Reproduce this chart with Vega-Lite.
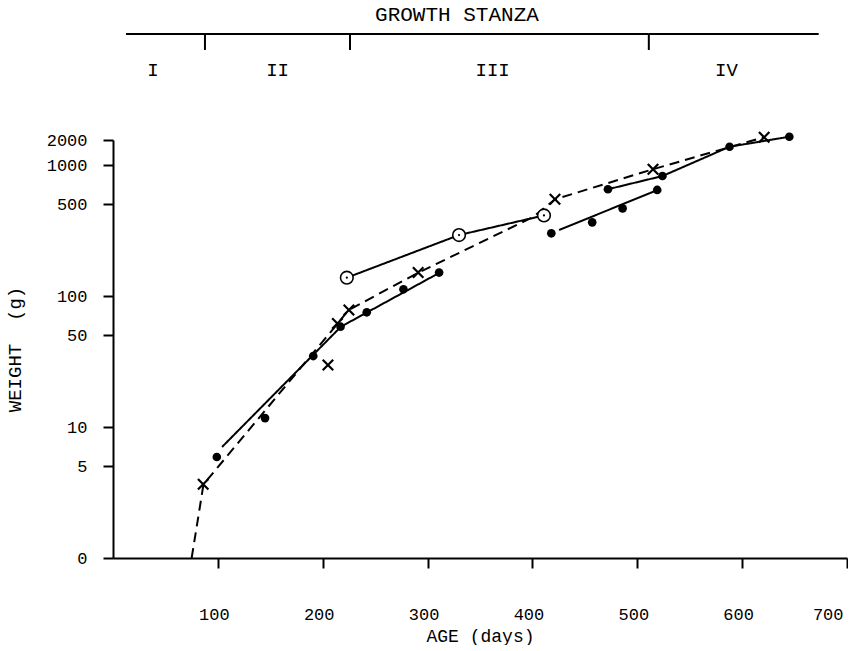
{
  "$schema": "https://vega.github.io/schema/vega-lite/v6.json",
  "background": "white",
  "padding": {"left": 5, "top": 0, "right": 0, "bottom": 0},
  "spacing": 60,
  "bounds": "flush",
  "config": {
    "view": {"stroke": null},
    "font": "Liberation Mono",
    "axis": {
      "domainColor": "black", "domainWidth": 2, "tickColor": "black", "tickWidth": 2, "tickSize": 10,
      "labelColor": "black", "labelFont": "Liberation Mono", "labelFontSize": 17,
      "titleColor": "black", "titleFont": "Liberation Mono", "titleFontSize": 19, "titleFontWeight": "normal",
      "grid": false
    }
  },
  "datasets": {
    "stanzas": [
      {"stanza": "I", "start": 12.4, "end": 87.7, "label_age": 38},
      {"stanza": "II", "start": 87.7, "end": 226, "label_age": 157},
      {"stanza": "III", "start": 226, "end": 511, "label_age": 362},
      {"stanza": "IV", "start": 511, "end": 673, "label_age": 585}
    ],
    "dots": [
      {"age": 99, "weight": 5.9, "group": "A"},
      {"age": 145, "weight": 11.7, "group": "A"},
      {"age": 191, "weight": 34.8, "group": "A"},
      {"age": 217, "weight": 58.3, "group": "A"},
      {"age": 242, "weight": 75.1, "group": "A"},
      {"age": 277, "weight": 112.5, "group": "A"},
      {"age": 311, "weight": 151, "group": "A"},
      {"age": 418, "weight": 301, "group": "B"},
      {"age": 457, "weight": 365, "group": "B"},
      {"age": 486, "weight": 467, "group": "B"},
      {"age": 519, "weight": 645, "group": "B"},
      {"age": 472, "weight": 653, "group": "C"},
      {"age": 524, "weight": 824, "group": "C"},
      {"age": 588, "weight": 1379, "group": "C"},
      {"age": 645, "weight": 1644, "group": "C"}
    ],
    "crosses": [
      {"age": 86, "weight": 3.65},
      {"age": 205, "weight": 29.7},
      {"age": 214, "weight": 61.7},
      {"age": 225, "weight": 78.2},
      {"age": 291, "weight": 151},
      {"age": 421.5, "weight": 547},
      {"age": 515, "weight": 927},
      {"age": 621, "weight": 1627}
    ],
    "circles": [
      {"age": 223, "weight": 138},
      {"age": 330, "weight": 292},
      {"age": 411, "weight": 412}
    ],
    "lines": [
      {"series": "A", "order": 1, "age": 104, "weight": 7.04},
      {"series": "A", "order": 2, "age": 217.4, "weight": 58.3},
      {"series": "A", "order": 3, "age": 311, "weight": 150},
      {"series": "B", "order": 1, "age": 425.4, "weight": 319},
      {"series": "B", "order": 2, "age": 516.9, "weight": 633},
      {"series": "C", "order": 1, "age": 472, "weight": 653},
      {"series": "C", "order": 2, "age": 524, "weight": 824},
      {"series": "C", "order": 3, "age": 588, "weight": 1379},
      {"series": "C", "order": 4, "age": 645, "weight": 1644},
      {"series": "circles", "order": 1, "age": 223, "weight": 138},
      {"series": "circles", "order": 2, "age": 330, "weight": 292},
      {"series": "circles", "order": 3, "age": 411, "weight": 412},
      {"series": "crosses", "order": 1, "age": 75, "weight": 1.0},
      {"series": "crosses", "order": 2, "age": 80.1, "weight": 1.79},
      {"series": "crosses", "order": 3, "age": 86.3, "weight": 3.65},
      {"series": "crosses", "order": 4, "age": 214.3, "weight": 61.7},
      {"series": "crosses", "order": 5, "age": 224.8, "weight": 78.2},
      {"series": "crosses", "order": 6, "age": 291.4, "weight": 151},
      {"series": "crosses", "order": 7, "age": 400.6, "weight": 401},
      {"series": "crosses", "order": 8, "age": 421.5, "weight": 547},
      {"series": "crosses", "order": 9, "age": 514.7, "weight": 927},
      {"series": "crosses", "order": 10, "age": 620.6, "weight": 1627}
    ]
  },
  "vconcat": [
    {
      "width": 734,
      "height": 80,
      "layer": [
        {
          "data": {"name": "stanzas"},
          "mark": {"type": "rule", "color": "black", "strokeWidth": 2},
          "encoding": {
            "x": {"field": "start", "type": "quantitative", "scale": {"domain": [0, 700]}, "axis": null},
            "x2": {"field": "end"},
            "y": {"datum": 0.575, "type": "quantitative", "scale": {"domain": [0, 1]}, "axis": null}
          }
        },
        {
          "data": {"name": "stanzas"},
          "transform": [{"filter": "datum.stanza != 'IV'"}],
          "mark": {"type": "rule", "color": "black", "strokeWidth": 2},
          "encoding": {
            "x": {"field": "end", "type": "quantitative"},
            "y": {"datum": 0.575, "type": "quantitative"},
            "y2": {"datum": 0.375}
          }
        },
        {
          "data": {"name": "stanzas"},
          "mark": {"type": "text", "font": "Liberation Mono", "fontSize": 19, "color": "black", "baseline": "middle", "align": "center"},
          "encoding": {
            "x": {"field": "label_age", "type": "quantitative"},
            "y": {"datum": 0.125, "type": "quantitative"},
            "text": {"field": "stanza"}
          }
        },
        {
          "data": {"values": [{"heading": "GROWTH STANZA"}]},
          "mark": {"type": "text", "font": "Liberation Mono", "fontSize": 21, "color": "black", "baseline": "middle", "align": "center"},
          "encoding": {
            "x": {"datum": 328, "type": "quantitative"},
            "y": {"datum": 0.8125, "type": "quantitative"},
            "text": {"field": "heading"}
          }
        }
      ]
    },
    {
      "width": 734,
      "height": 418,
      "encoding": {
        "x": {
          "field": "age", "type": "quantitative",
          "scale": {"domain": [0, 700], "nice": false, "zero": false},
          "axis": {"title": "AGE (days)", "values": [100, 200, 300, 400, 500, 600, 700], "labelPadding": 38, "titlePadding": 5, "labelOffset": -4, "labelFontSize": 17, "titleFontSize": 18}
        },
        "y": {
          "field": "weight", "type": "quantitative",
          "scale": {"type": "log", "domain": [1, 1552], "nice": false, "zero": false},
          "axis": {
            "title": "WEIGHT\u00a0\u00a0(g)",
            "values": [1, 5, 10, 50, 100, 500, 1000, 1552],
            "labelExpr": "datum.value < 2 ? '0' : (datum.value > 1200 ? '2000' : format(datum.value, 'd'))",
            "labelPadding": 16, "titlePadding": 22
          }
        }
      },
      "layer": [
        {
          "data": {"name": "lines"},
          "mark": {"type": "line", "color": "black", "strokeWidth": 2},
          "encoding": {
            "detail": {"field": "series"},
            "order": {"field": "order"},
            "strokeDash": {"field": "series", "type": "nominal", "scale": {"domain": ["A", "B", "C", "circles", "crosses"], "range": [[1, 0], [1, 0], [1, 0], [1, 0], [10, 6]]}, "legend": null}
          }
        },
        {
          "data": {"name": "circles"},
          "mark": {"type": "point", "shape": "circle", "size": 160, "filled": true, "fill": "white", "stroke": "black", "strokeWidth": 1.6, "opacity": 1}
        },
        {
          "data": {"name": "circles"},
          "mark": {"type": "point", "shape": "circle", "size": 5, "filled": true, "color": "black", "opacity": 1}
        },
        {
          "data": {"name": "dots"},
          "mark": {"type": "point", "shape": "circle", "size": 75, "filled": true, "color": "black", "opacity": 1}
        },
        {
          "data": {"name": "crosses"},
          "mark": {"type": "point", "shape": "M-1,-1L1,1M-1,1L1,-1", "size": 110, "filled": false, "color": "black", "strokeWidth": 2.2, "opacity": 1}
        }
      ]
    }
  ]
}
